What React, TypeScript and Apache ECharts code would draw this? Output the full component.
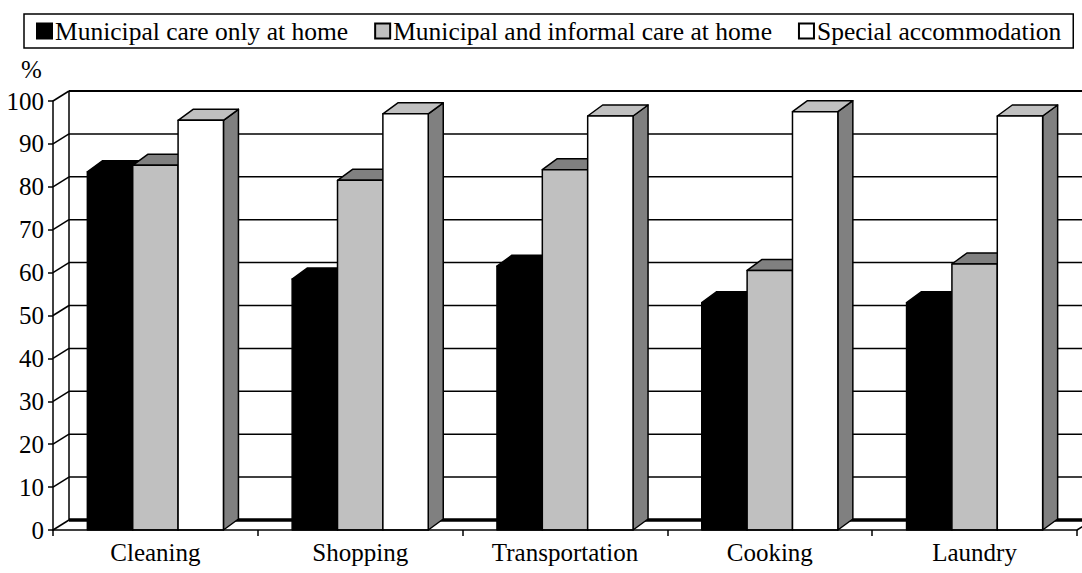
import React, { useEffect, useRef } from "react";
import * as echarts from "echarts";

const categories = ["Cleaning", "Shopping", "Transportation", "Cooking", "Laundry"];
const seriesNames = [
  "Municipal care only at home",
  "Municipal and informal care at home",
  "Special accommodation",
];
const municipalOnly = [83.5, 58.5, 61.5, 53, 53];
const municipalInformal = [85, 81.5, 84, 60.5, 62];
const specialAccommodation = [95.5, 97, 96.5, 97.5, 96.5];
const yTicks = [0, 10, 20, 30, 40, 50, 60, 70, 80, 90, 100];

const FONT = "Liberation Serif";
const WALL_DX = 16;
const WALL_DY = -10;
const BAR_DX = 15;
const BAR_DY = -11;
const BAR_FRAC = 0.2215;
const LW = 1.5;

function barSeries(name: string, values: number[], idx: number, front: string, top: string, side: string) {
  return {
    type: "custom",
    name,
    z: 5 + idx,
    itemStyle: { color: front, borderColor: "#000", borderWidth: 1 },
    data: values.map((v, i) => [i, v]),
    renderItem: (params: any, api: any) => {
      const ci = api.value(0);
      const v = api.value(1);
      const pTop = api.coord([ci, v]);
      const pBot = api.coord([ci, 0]);
      const band = api.size([1, 0])[0];
      const w = band * BAR_FRAC;
      const x0 = pTop[0] + (idx - 1.5) * w;
      const x1 = x0 + w;
      const yT = pTop[1];
      const yB = pBot[1];
      const stroke = { stroke: "#000", lineWidth: LW, lineJoin: "round" };
      return {
        type: "group",
        children: [
          {
            type: "polygon",
            shape: { points: [[x1, yT], [x1 + BAR_DX, yT + BAR_DY], [x1 + BAR_DX, yB + BAR_DY], [x1, yB]] },
            style: { fill: side, ...stroke },
          },
          {
            type: "polygon",
            shape: { points: [[x0, yT], [x0 + BAR_DX, yT + BAR_DY], [x1 + BAR_DX, yT + BAR_DY], [x1, yT]] },
            style: { fill: top, ...stroke },
          },
          {
            type: "rect",
            shape: { x: x0, y: yT, width: w, height: yB - yT },
            style: { fill: front, ...stroke },
          },
        ],
      };
    },
  };
}

export default function App() {
  const ref = useRef<HTMLDivElement>(null);
  useEffect(() => {
    if (!ref.current) return;
    const chart = echarts.init(ref.current, null, { renderer: "svg" });
    const option: any = {
      animation: false,
      backgroundColor: "#fff",
      textStyle: { fontFamily: FONT, color: "#000" },
      legend: {
        data: seriesNames,
        left: 24,
        top: 14,
        padding: [4, 12, 4, 12],
        itemGap: 26,
        itemWidth: 15,
        itemHeight: 15,
        icon: "rect",
        borderColor: "#000",
        borderWidth: 1.5,
        textStyle: { fontFamily: FONT, fontSize: 25.5, color: "#000", padding: [0, 0, 0, -2] },
        selectedMode: false,
      },
      graphic: [
        {
          type: "text",
          left: 21,
          top: 57,
          style: { text: "%", font: "25px Liberation Serif", fill: "#000" },
        },
      ],
      grid: { left: 53, right: 5, top: 101, bottom: 43 },
      xAxis: {
        type: "category",
        data: categories,
        boundaryGap: true,
        axisLine: { lineStyle: { color: "#000", width: LW } },
        axisTick: { show: true, interval: 0, length: 6, lineStyle: { color: "#000", width: LW } },
        axisLabel: { fontFamily: FONT, fontSize: 25, color: "#000", margin: 10, interval: 0 },
        splitLine: { show: false },
        z: 20,
      },
      yAxis: {
        type: "value",
        min: 0,
        max: 100,
        interval: 10,
        axisLine: { show: true, lineStyle: { color: "#000", width: LW } },
        axisTick: { show: true, length: 5, lineStyle: { color: "#000", width: LW } },
        axisLabel: { fontFamily: FONT, fontSize: 25, color: "#000", margin: 9 },
        splitLine: { show: false },
        z: 20,
      },
      series: [
        {
          type: "custom",
          name: "wall",
          z: 1,
          silent: true,
          data: yTicks.map((t) => [0, t]),
          renderItem: (params: any, api: any) => {
            const cs = params.coordSys;
            const t = api.value(1);
            const p = api.coord([0, t]);
            const y = p[1];
            const xl = cs.x;
            const xr = cs.x + cs.width;
            const children: any[] = [
              {
                type: "line",
                shape: { x1: xl, y1: y, x2: xl + WALL_DX, y2: y + WALL_DY },
                style: { stroke: "#000", lineWidth: LW },
              },
              {
                type: "line",
                shape: { x1: xl + WALL_DX, y1: y + WALL_DY, x2: xr + WALL_DX, y2: y + WALL_DY },
                style: { stroke: "#000", lineWidth: t === 0 ? 3.5 : t === 100 ? 2 : LW },
              },
            ];
            if (t === 0) {
              children.push({
                type: "line",
                shape: { x1: xr, y1: y, x2: xr + WALL_DX, y2: y + WALL_DY },
                style: { stroke: "#000", lineWidth: LW },
              });
              const pTop = api.coord([0, 100]);
              children.push({
                type: "line",
                shape: { x1: xl + WALL_DX, y1: y + WALL_DY, x2: xl + WALL_DX, y2: pTop[1] + WALL_DY },
                style: { stroke: "#000", lineWidth: LW },
              });
            }
            return { type: "group", children };
          },
        },
        barSeries(seriesNames[0], municipalOnly, 0, "#000000", "#000000", "#000000"),
        barSeries(seriesNames[1], municipalInformal, 1, "#C0C0C0", "#808080", "#606060"),
        barSeries(seriesNames[2], specialAccommodation, 2, "#FFFFFF", "#C0C0C0", "#808080"),
      ],
    };
    chart.setOption(option);
    return () => chart.dispose();
  }, []);
  return (
    <div
      ref={ref}
      style={{ position: "fixed", left: 0, top: 0, width: 1082, height: 573, background: "#fff" }}
    />
  );
}
